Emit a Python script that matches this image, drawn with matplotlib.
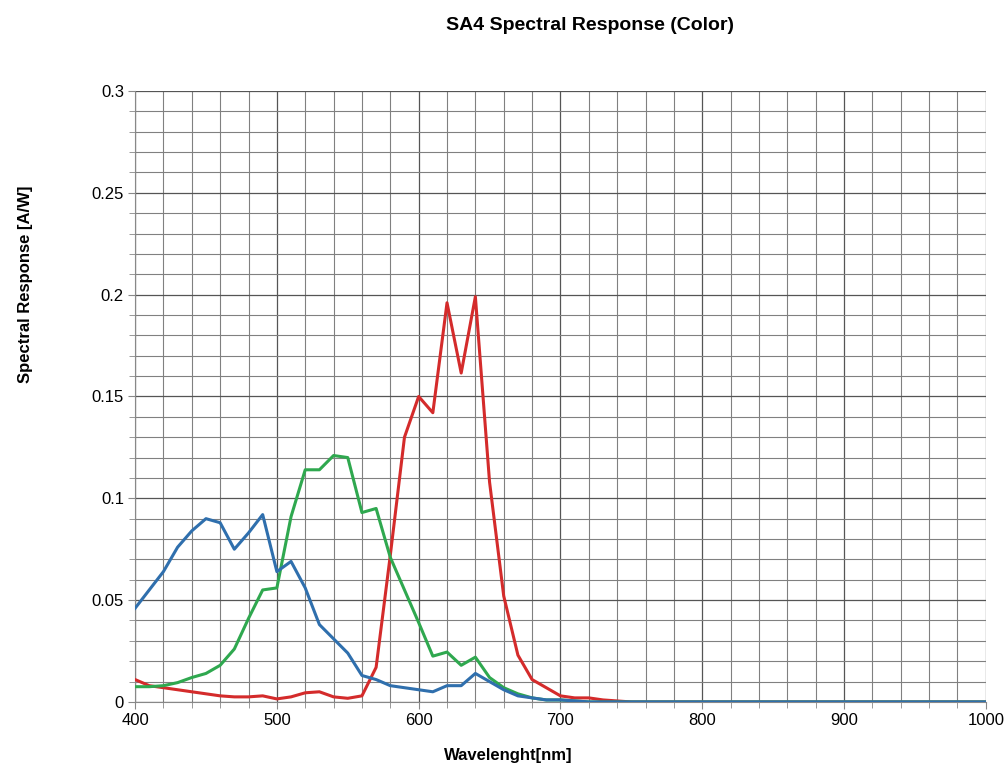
import matplotlib
matplotlib.use("Agg")
import matplotlib.pyplot as plt
import numpy as np
from matplotlib.ticker import MultipleLocator, FuncFormatter

plt.rcParams["font.family"] = ["Liberation Sans", "DejaVu Sans"]

# wavelength grid of the measurement, 10 nm steps
wavelength = list(range(400, 1010, 10))

# tail beyond 700-750 nm is flat at ~0 for all channels
blue_head = [0.046, 0.055, 0.064, 0.076, 0.084, 0.090, 0.088, 0.075, 0.083, 0.092,
             0.064, 0.069, 0.056, 0.038, 0.031, 0.024, 0.013, 0.011, 0.008, 0.007,
             0.006, 0.005, 0.008, 0.008, 0.014, 0.010, 0.006, 0.003, 0.002, 0.001,
             0.001, 0.0005]
green_head = [0.0075, 0.0075, 0.008, 0.0095, 0.012, 0.014, 0.018, 0.026, 0.041, 0.055,
              0.056, 0.091, 0.114, 0.114, 0.121, 0.120, 0.093, 0.095, 0.071, 0.055,
              0.039, 0.0225, 0.0245, 0.018, 0.022, 0.012, 0.007, 0.004, 0.002, 0.001,
              0.001, 0.0005]
red_head = [0.011, 0.008, 0.007, 0.006, 0.005, 0.004, 0.003, 0.0025, 0.0025, 0.003,
            0.0015, 0.0025, 0.0045, 0.005, 0.0025, 0.0018, 0.003, 0.017, 0.072, 0.130,
            0.150, 0.142, 0.196, 0.1615, 0.199, 0.108, 0.052, 0.023, 0.011, 0.007,
            0.003, 0.002, 0.002, 0.001, 0.0005]

n = len(wavelength)
blue = blue_head + [0.0] * (n - len(blue_head))
green = green_head + [0.0] * (n - len(green_head))
red = red_head + [0.0] * (n - len(red_head))

fig = plt.figure(figsize=(10.08, 7.65), dpi=100)
ax = fig.add_axes([0.134, 0.0824, 0.844, 0.7987])

ax.plot(wavelength, red, color="#d42b2b", lw=2.2, zorder=3)
ax.plot(wavelength, green, color="#2fa84f", lw=2.2, zorder=3)
ax.plot(wavelength, blue, color="#2f6fad", lw=2.2, zorder=4)

ax.set_xlim(400, 1000)
ax.set_ylim(0, 0.3)
ax.xaxis.set_major_locator(MultipleLocator(100))
ax.xaxis.set_minor_locator(MultipleLocator(20))
ax.yaxis.set_major_locator(MultipleLocator(0.05))
ax.yaxis.set_minor_locator(MultipleLocator(0.01))
ax.yaxis.set_major_formatter(FuncFormatter(lambda v, _: f"{v:.2f}".rstrip("0").rstrip(".")))

ax.grid(which="major", color="#555555", lw=0.9)
ax.grid(which="minor", color="#808080", lw=0.8)
ax.set_axisbelow(True)
for side in ["top", "right"]:
    ax.spines[side].set_visible(False)
for side in ["left", "bottom"]:
    ax.spines[side].set_color("#888888")
ax.tick_params(which="both", direction="out", color="#888888", labelsize=12, pad=3)
ax.tick_params(which="major", length=5)
ax.tick_params(which="minor", length=4)

fig.text(0.585, 0.967, "SA4 Spectral Response (Color)", ha="center", va="center",
         fontsize=14, fontweight="bold")
fig.text(0.025, 0.629, "Spectral Response [A/W]", ha="center", va="center",
         rotation=90, fontsize=12, fontweight="bold")
fig.text(0.504, 0.013, "Wavelenght[nm]", ha="center", va="center",
         fontsize=12, fontweight="bold")

fig.savefig("out.png", dpi=100)
